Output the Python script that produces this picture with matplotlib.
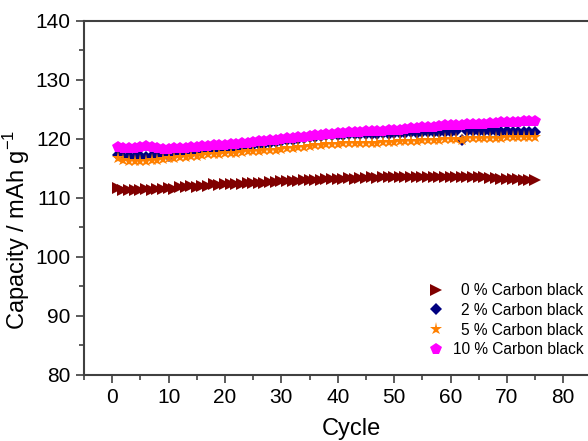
import matplotlib
matplotlib.use("Agg")
from matplotlib import pyplot as plt
from matplotlib.ticker import MultipleLocator, FixedLocator
import numpy as np

plt.rcParams['font.family'] = ['Liberation Sans', 'DejaVu Sans']
plt.rcParams['mathtext.fontset'] = 'custom'
plt.rcParams['mathtext.rm'] = 'Liberation Sans'

cycles = np.arange(1, 76)

cb0 = [111.7, 111.3, 111.4, 111.3, 111.4, 111.5, 111.4, 111.6, 111.5, 111.7,
       111.6, 111.8, 111.8, 112.0, 111.9, 112.1, 112.1, 112.3, 112.2, 112.3,
       112.3, 112.4, 112.3, 112.5, 112.5, 112.6, 112.5, 112.7, 112.7, 112.8,
       112.8, 112.9, 112.9, 113.0, 113.0, 113.1, 113.1, 113.2, 113.2, 113.3,
       113.3, 113.4, 113.3, 113.4, 113.4, 113.5, 113.4, 113.5, 113.5, 113.5,
       113.5, 113.6, 113.5, 113.6, 113.5, 113.6, 113.6, 113.6, 113.5, 113.6,
       113.6, 113.5, 113.6, 113.6, 113.5, 113.5, 113.4, 113.4, 113.3, 113.3,
       113.2, 113.2, 113.1, 113.1, 113.0]

cb2 = [117.3, 117.0, 117.1, 116.9, 117.1, 117.0, 117.2, 117.1, 117.3, 117.2,
       117.4, 117.5, 117.6, 117.7, 117.8, 117.9, 118.0, 118.1, 118.1, 118.2,
       118.3, 118.5, 118.6, 118.8, 118.9, 119.1, 119.2, 119.4, 119.5, 119.7,
       119.8, 119.9, 120.0, 120.2, 120.3, 120.4, 120.5, 120.6, 120.6, 120.7,
       120.7, 120.8, 120.8, 120.8, 120.9, 120.9, 120.9, 121.0, 120.9, 121.0,
       121.0, 121.0, 121.1, 121.0, 121.1, 121.1, 121.2, 121.1, 121.2, 121.2,
       121.3, 119.8, 121.3, 121.3, 121.4, 121.3, 121.3, 121.3, 121.2, 121.3,
       121.2, 121.2, 121.2, 121.1, 121.2]

cb5 = [116.8, 116.4, 116.3, 116.2, 116.3, 116.3, 116.4, 116.5, 116.6, 116.7,
       116.8, 116.9, 117.0, 117.1, 117.2, 117.3, 117.4, 117.5, 117.5, 117.6,
       117.7, 117.7, 117.8, 117.9, 117.9, 118.0, 118.1, 118.1, 118.2, 118.3,
       118.4, 118.5, 118.6, 118.7, 118.8, 118.9, 119.0, 119.1, 119.2, 119.2,
       119.3, 119.3, 119.3, 119.4, 119.4, 119.4, 119.4, 119.5, 119.5, 119.5,
       119.6, 119.6, 119.7, 119.7, 119.8, 119.8, 119.9, 119.9, 120.0, 120.0,
       120.0, 119.9, 120.1, 120.1, 120.1, 120.2, 120.2, 120.2, 120.2, 120.3,
       120.3, 120.3, 120.3, 120.4, 120.4]

cb10 = [118.6, 118.4, 118.5, 118.4, 118.6, 118.8, 118.6, 118.4, 118.3, 118.3,
        118.4, 118.4, 118.5, 118.6, 118.7, 118.8, 118.8, 118.9, 118.9, 119.0,
        119.1, 119.2, 119.3, 119.4, 119.5, 119.6, 119.7, 119.8, 119.9, 120.0,
        120.1, 120.2, 120.3, 120.4, 120.5, 120.6, 120.7, 120.8, 120.9, 121.0,
        121.0, 121.1, 121.2, 121.2, 121.3, 121.3, 121.4, 121.4, 121.5, 121.5,
        121.6, 121.7, 121.8, 121.9, 122.0, 122.0, 122.1, 122.2, 122.3, 122.3,
        122.4, 122.4, 122.5, 122.5, 122.6, 122.6, 122.7, 122.7, 122.8, 122.8,
        122.9, 122.9, 123.0, 123.0, 123.1]

labels = ["0 % Carbon black", "2 % Carbon black", "5 % Carbon black", "10 % Carbon black"]
xtick_vals = [0, 10, 20, 30, 40, 50, 60, 70, 80]

fig = plt.figure(figsize=(5.88, 4.41), dpi=100)
# axes runs off the right edge like the original crop
ax = fig.add_axes([0.1429, 0.1497, 0.911, 0.8027])

ax.plot(cycles, cb0, ls='none', marker='>', ms=8, color='#800000', mew=0, label=labels[0])
ax.plot(cycles, cb2, ls='none', marker='D', ms=6, color='#000080', mew=0, label=labels[1])
ax.plot(cycles, cb5, ls='none', marker='*', ms=9.5, color='#FF8000', mew=0, label=labels[2])
ax.plot(cycles, cb10, ls='none', marker='p', ms=8.5, color='#FF00FF', mew=0, label=labels[3])

ax.set_xlim(-5, 90)
ax.set_ylim(80, 140)
ax.xaxis.set_major_locator(FixedLocator(xtick_vals))
ax.xaxis.set_minor_locator(MultipleLocator(5))
ax.yaxis.set_major_locator(MultipleLocator(10))
ax.yaxis.set_minor_locator(MultipleLocator(5))
ax.tick_params(which='both', direction='out', color='#404040', width=1.2, labelsize=15)
ax.tick_params(which='major', length=6)
ax.tick_params(which='minor', length=3.5)
for s in ax.spines.values():
    s.set_color('#404040')
    s.set_linewidth(1.5)

ax.set_xlabel("Cycle", fontsize=17, labelpad=8)
ax.set_ylabel("Capacity / mAh g$^{\\mathregular{-1}}$", fontsize=17)
ax.yaxis.set_label_coords(-0.097, 0.41)

leg = ax.legend(loc='lower right', bbox_to_anchor=(0.992, 0.19),
                bbox_transform=fig.transFigure, frameon=False, fontsize=11.2,
                borderpad=0, borderaxespad=0, labelspacing=0.3,
                handlelength=1.0, handletextpad=0.6)
# right-align the legend texts (shorter labels pushed right)
fig.canvas.draw()
renderer = fig.canvas.get_renderer()
widths = [t.get_window_extent(renderer).width for t in leg.get_texts()]
wmax = max(widths)
for t, w in zip(leg.get_texts(), widths):
    t.set_position((wmax - w, 0))

fig.savefig("out.png", dpi=100)
